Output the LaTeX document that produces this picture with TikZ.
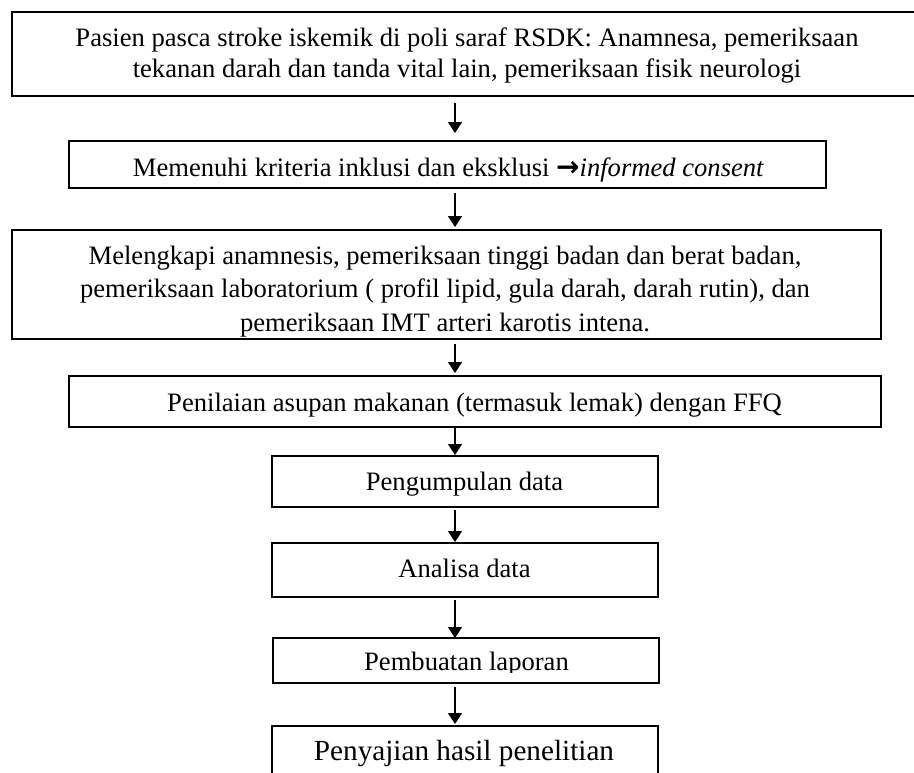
\documentclass[tikz,border=0pt]{standalone}
\usepackage{fontspec}
\setmainfont{Liberation Serif}
\newfontfamily\arrowfont{DejaVu Sans}
\usetikzlibrary{arrows.meta}
\begin{document}
\begin{tikzpicture}[x=1pt,y=-1pt,
  box/.style={draw=black,line width=1.3pt,rectangle,inner sep=0pt,outer sep=0pt},
  txt/.style={inner sep=0pt,outer sep=0pt,anchor=base,font=\fontsize{26.6}{32}\selectfont},
  bigtxt/.style={inner sep=0pt,outer sep=0pt,anchor=base,font=\fontsize{29.2}{34}\selectfont},
  flow/.style={line width=1.5pt,-{Triangle[length=11pt,width=14pt]}}]
\useasboundingbox[fill=white] (0,0) rectangle (914,772);
\coordinate (X) at (455,0);
% boxes
\node[box,minimum width=913pt,minimum height=84pt] (b1) at (468.5,54) {};
\node[box,minimum width=757pt,minimum height=47pt] (b2) at (447.5,164.5) {};
\node[box,minimum width=869pt,minimum height=109pt] (b3) at (446.5,284.5) {};
\node[box,minimum width=812pt,minimum height=51pt] (b4) at (475,401.5) {};
\node[box,minimum width=386pt,minimum height=51pt] (b5) at (465,481.5) {};
\node[box,minimum width=386pt,minimum height=54pt] (b6) at (465,570) {};
\node[box,minimum width=386pt,minimum height=45pt] (b7) at (466,660.5) {};
\node[box,minimum width=386pt,minimum height=74pt] (b8) at (465,763) {};
% texts
\node[txt] (t1a) at (467,46) {Pasien pasca stroke iskemik di poli saraf RSDK: Anamnesa, pemeriksaan};
\node[txt] (t1b) at (467,77) {tekanan darah dan tanda vital lain, pemeriksaan fisik neurologi};
\node[txt] (t2) at (448.5,176) {Memenuhi kriteria inklusi dan eksklusi {\arrowfont\bfseries\fontsize{28}{32}\selectfont →}\textit{informed consent}};
\node[txt] (t3a) at (445,264) {Melengkapi anamnesis, pemeriksaan tinggi badan dan berat badan,};
\node[txt] (t3b) at (445,297.5) {pemeriksaan laboratorium ( profil lipid, gula darah, darah rutin), dan};
\node[txt] (t3c) at (445,331) {pemeriksaan IMT arteri karotis intena.};
\node[txt] (t4) at (474.5,411.5) {Penilaian asupan makanan (termasuk lemak) dengan FFQ};
\node[txt] (t5) at (464.5,490) {Pengumpulan data};
\node[txt] (t6) at (464.5,577) {Analisa data};
\begin{scope}
\clip (273,638) rectangle (659,672);
\node[txt] (t7) at (466.5,670) {Pembuatan laporan};
\end{scope}
\node[bigtxt] (t8) at (464,760) {Penyajian hasil penelitian};
% arrows
\draw[flow,shorten <=7pt,shorten >=8pt] (b1.south -| X) -- (b2.north -| X);
\draw[flow,shorten <=5pt,shorten >=3pt] (b2.south -| X) -- (b3.north -| X);
\draw[flow,shorten <=5pt,shorten >=3pt] (b3.south -| X) -- (b4.north -| X);
\draw[flow,shorten <=1pt,shorten >=1pt] (b4.south -| X) -- (b5.north -| X);
\draw[flow,shorten <=3pt,shorten >=1pt] (b5.south -| X) -- (b6.north -| X);
\draw[flow,shorten <=3pt,shorten >=0pt] (b6.south -| X) -- (b7.north -| X);
\draw[flow,shorten <=4pt,shorten >=2pt] (b7.south -| X) -- (b8.north -| X);
\end{tikzpicture}
\end{document}
